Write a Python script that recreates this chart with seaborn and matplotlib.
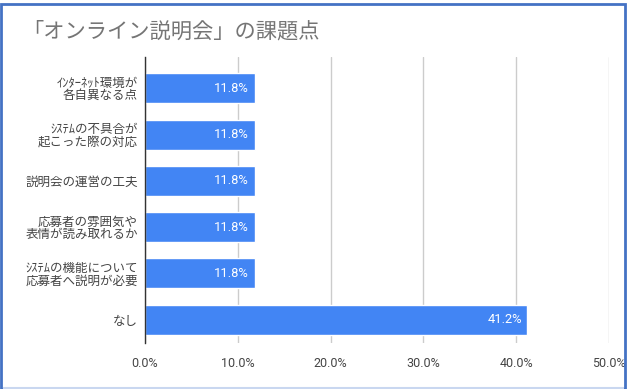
import matplotlib
matplotlib.use("Agg")
import matplotlib.pyplot as plt
import seaborn as sns
import pandas as pd
from matplotlib.patches import Rectangle
from matplotlib.ticker import FuncFormatter

categories = [
    "ｲﾝﾀｰﾈｯﾄ環境が\n各自異なる点",
    "ｼｽﾃﾑの不具合が\n起こった際の対応",
    "説明会の運営の工夫",
    "応募者の雰囲気や\n表情が読み取れるか",
    "ｼｽﾃﾑの機能について\n応募者へ説明が必要",
    "なし",
]
values = [11.8, 11.8, 11.8, 11.8, 11.8, 41.2]
title = "「オンライン説明会」の課題点"

sns.set_style("white")
plt.rcParams['font.family'] = ['Noto Sans CJK JP', 'DejaVu Sans']
num_font = ['Roboto', 'DejaVu Sans']

df = pd.DataFrame({"label": categories, "value": values})

fig = plt.figure(figsize=(6.27, 3.89), dpi=100)
ax = fig.add_axes([145/627, 1-343/389, 464/627, 286/389])

sns.barplot(data=df, x="value", y="label", color="#4285F4", width=0.65,
            saturation=1, ax=ax, zorder=3)

ax.set_xlim(0, 50)
ax.set_ylim(5.503, -0.676)
ax.set_xticks([0, 10, 20, 30, 40, 50])
ax.xaxis.set_major_formatter(FuncFormatter(lambda v, p: f"{v:.1f}%"))
ax.grid(axis="x", color="#cccccc", linewidth=1, zorder=0)
ax.set_xlabel("")
ax.set_ylabel("")
for s in ["top", "right", "bottom"]:
    ax.spines[s].set_visible(False)
ax.spines["left"].set_color("#333333")
ax.spines["left"].set_linewidth(1)
ax.spines["left"].set_zorder(4)
ax.tick_params(axis="y", length=0, pad=5, labelsize=9, labelcolor="#444444")
ax.tick_params(axis="x", length=0, pad=10, labelsize=9, labelcolor="#444444")
for t in ax.get_yticklabels():
    t.set_linespacing(0.95)
for t in ax.get_xticklabels():
    t.set_family(num_font)

for i, v in enumerate(values):
    ax.text(v - 0.6, i, f"{v:.1f}%", color="white", ha="right", va="center",
            fontsize=9.3, family=num_font, zorder=5)

fig.text(22/627, 1-31/389, title, fontsize=15.3, color="#757575", va="center", ha="left")

# outer frame
fig.patches.append(Rectangle((1/627, 0), 624/627, 1-4/389, transform=fig.transFigure,
                             fill=False, edgecolor="#4472C4", linewidth=2))
fig.patches.append(Rectangle((3/627, 1/389), 621/627, 0, transform=fig.transFigure,
                             fill=False, edgecolor="#C9D7F0", linewidth=1.5))

fig.savefig("out.png", dpi=100)
